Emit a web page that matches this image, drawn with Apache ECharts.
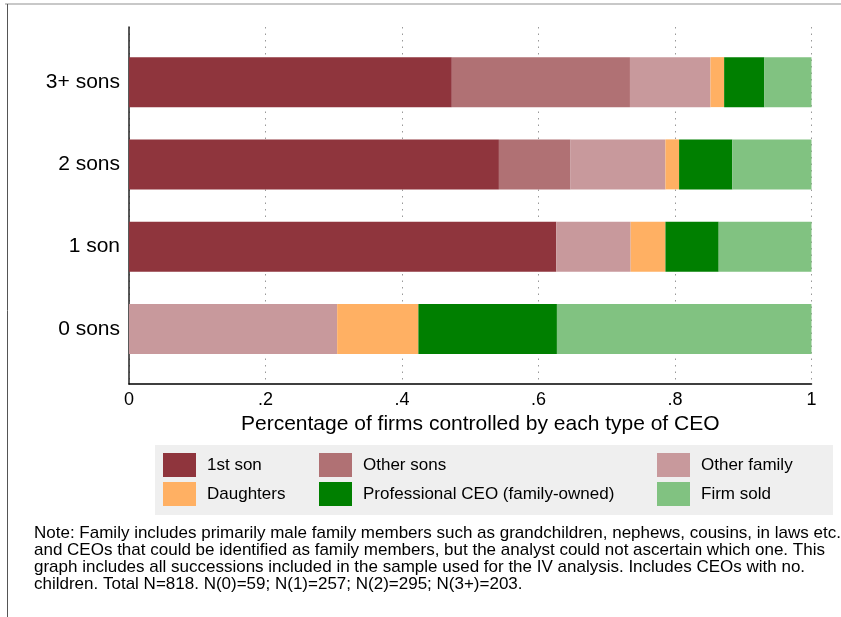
<!DOCTYPE html>
<html>
<head>
<meta charset="utf-8">
<script src="https://cdn.jsdelivr.net/npm/echarts@6/dist/echarts.min.js"></script>
<style>
  html, body { margin: 0; padding: 0; background: #fff; }
  #chart { width: 841px; height: 617px; }
</style>
</head>
<body>
<div id="chart"></div>
<script>
// Share of firms by type of CEO, by number of sons of the outgoing CEO
const categories = ['0 sons', '1 son', '2 sons', '3+ sons'];
const firstSon     = [0,     0.626, 0.542, 0.473];
const otherSons    = [0,     0,     0.105, 0.261];
const otherFamily  = [0.305, 0.109, 0.139, 0.118];
const daughters    = [0.119, 0.051, 0.020, 0.020];
const professional = [0.203, 0.078, 0.078, 0.059];
const firmSold     = [0.373, 0.136, 0.116, 0.069];

const seriesNames = ['1st son', 'Other sons', 'Other family', 'Daughters',
  'Professional CEO (family-owned)', 'Firm sold'];
const seriesData = [firstSon, otherSons, otherFamily, daughters, professional, firmSold];
const colors = ['#8f353d', '#b07174', '#c8999c', '#ffb063', '#007f00', '#81c281'];

const FONT = '"Liberation Sans", Arial, Helvetica, sans-serif';

const chart = echarts.init(document.getElementById('chart'), null, { renderer: 'canvas' });

const legendCommon = {
  orient: 'vertical',
  icon: 'rect',
  itemWidth: 33,
  itemHeight: 24,
  itemGap: 5,
  selectedMode: false,
  padding: 0,
  textStyle: { fontFamily: FONT, fontSize: 17, color: '#000', padding: [2, 0, 0, 6] }
};

chart.setOption({
  animation: false,
  color: colors,
  textStyle: { fontFamily: FONT },
  grid: [
    // grid holding the stacked bars
    { left: 129, top: 41, width: 682.5, height: 329 },
    // grid holding the visible axes and dotted grid lines
    { left: 129, top: 27, width: 682.5, height: 357 }
  ],
  xAxis: [
    { gridIndex: 0, type: 'value', min: 0, max: 1, show: false },
    {
      gridIndex: 1, type: 'value', min: 0, max: 1, interval: 0.2,
      axisLine: { show: true, lineStyle: { color: '#000', width: 1.5 } },
      axisTick: { show: false },
      axisLabel: {
        color: '#000', fontSize: 18, margin: 7,
        formatter: v => {
          const r = Number(v.toFixed(1));
          return r === 0 ? '0' : r === 1 ? '1' : String(r).replace(/^0/, '');
        }
      },
      splitLine: { show: true, lineStyle: { color: '#999', width: 1, type: [1.5, 5] } },
      name: 'Percentage of firms controlled by each type of CEO',
      nameLocation: 'middle',
      nameGap: 29,
      nameTextStyle: { color: '#000', fontSize: 21, verticalAlign: 'top', padding: [0, 0, 0, 20] }
    }
  ],
  yAxis: [
    {
      gridIndex: 0, type: 'category', data: categories,
      axisLine: { show: false }, axisTick: { show: false },
      axisLabel: { color: '#000', fontSize: 21, margin: 9, padding: [4, 0, 0, 0] }
    },
    {
      gridIndex: 1, type: 'value', min: 0, max: 1,
      axisLine: { show: true, lineStyle: { color: '#222', width: 1.5 } },
      axisTick: { show: false }, axisLabel: { show: false },
      splitLine: { show: false }
    }
  ],
  legend: [
    Object.assign({ left: 163, top: 453, data: [seriesNames[0], seriesNames[3]] }, legendCommon),
    Object.assign({ left: 319, top: 453, data: [seriesNames[1], seriesNames[4]] }, legendCommon),
    Object.assign({ left: 657, top: 453, data: [seriesNames[2], seriesNames[5]] }, legendCommon)
  ],
  graphic: [
    // legend background
    { type: 'rect', left: 155, top: 445, z: -10, shape: { width: 678, height: 70 },
      style: { fill: '#efefef' } },
    // page frame
    { type: 'line', z: -10, shape: { x1: 5, y1: 4, x2: 841, y2: 4 },
      style: { stroke: '#c8c8c8', lineWidth: 2 } },
    { type: 'line', z: -10, shape: { x1: 7.5, y1: 4, x2: 7.5, y2: 617 },
      style: { stroke: '#555', lineWidth: 1 } },
    // note below the chart
    { type: 'text', left: 34, top: 525,
      style: {
        text: 'Note: Family includes primarily male family members such as grandchildren, nephews, cousins, in laws etc.\n' +
              'and CEOs that could be identified as family members, but the analyst could not ascertain which one. This\n' +
              'graph includes all successions included in the sample used for the IV analysis. Includes CEOs with no.\n' +
              'children. Total N=818. N(0)=59; N(1)=257; N(2)=295; N(3+)=203.',
        font: '17px ' + FONT, fill: '#000', lineHeight: 17
      } }
  ],
  series: seriesNames.map((name, i) => ({
    name,
    type: 'bar',
    stack: 'total',
    xAxisIndex: 0,
    yAxisIndex: 0,
    barWidth: 50,
    data: seriesData[i],
    itemStyle: { color: colors[i] },
    emphasis: { disabled: true }
  }))
});
</script>
</body>
</html>
